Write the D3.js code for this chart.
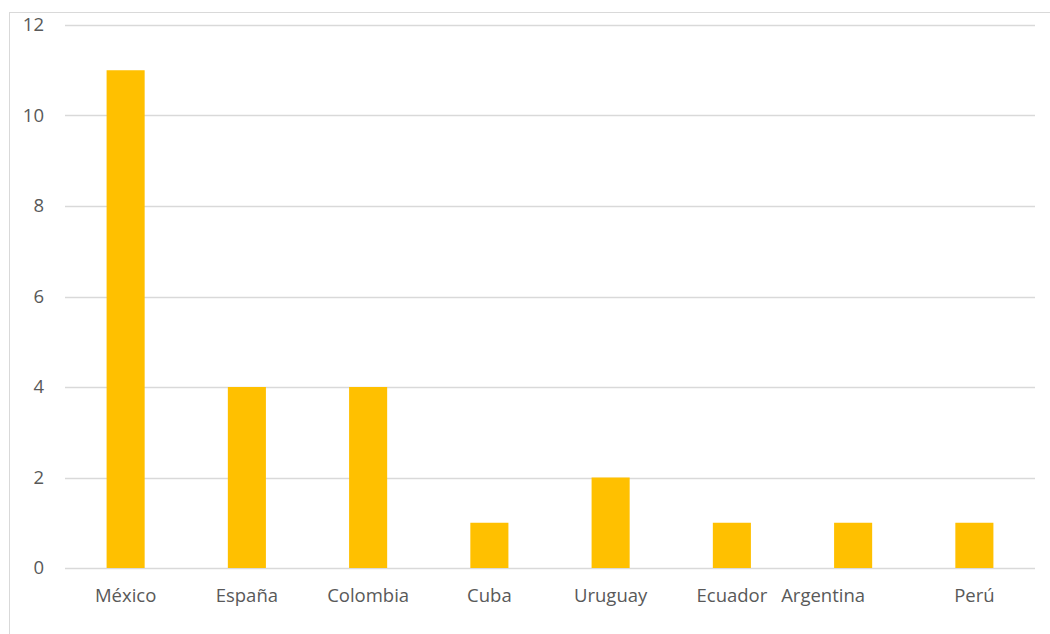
<!DOCTYPE html>
<html>
<head>
<meta charset="utf-8">
<script src="https://cdn.jsdelivr.net/npm/d3@7"></script>
<style>
  body { margin: 0; background: #fff; }
  text { font-family: "Open Sans", "Liberation Sans", sans-serif; fill: #595959; }
</style>
</head>
<body>
<div id="chart"></div>
<script>
const countries = ["México", "España", "Colombia", "Cuba", "Uruguay", "Ecuador", "Argentina", "Perú"];
const counts = [11, 4, 4, 1, 2, 1, 1, 1];
const yTicks = [0, 2, 4, 6, 8, 10, 12];

const W = 1050, H = 634;
const margin = {top: 25, right: 15, bottom: 66, left: 65};
const width = W - margin.left - margin.right,
      height = H - margin.top - margin.bottom;

const svg = d3.select("#chart").append("svg")
    .attr("width", W)
    .attr("height", H);

// chart frame
svg.append("rect")
    .attr("x", 9.5).attr("y", 12.5)
    .attr("width", W + 10).attr("height", H + 10)
    .attr("fill", "none")
    .attr("stroke", "#d9d9d9");

const g = svg.append("g")
    .attr("transform", `translate(${margin.left},${margin.top})`);

const x = d3.scaleBand()
    .domain(countries)
    .range([0, width])
    .paddingInner(0.686)
    .paddingOuter(0.343);

const y = d3.scaleLinear()
    .domain([0, 12])
    .range([height, 0]);

// gridlines
g.selectAll("line.grid")
    .data(yTicks)
    .enter()
    .append("line")
    .attr("class", "grid")
    .attr("x1", 0).attr("x2", width)
    .attr("y1", d => Math.round(y(d)) + 0.5)
    .attr("y2", d => Math.round(y(d)) + 0.5)
    .attr("stroke", "#d9d9d9")
    .attr("stroke-width", 1.5);

// y labels
g.selectAll("text.ytick")
    .data(yTicks)
    .enter()
    .append("text")
    .attr("class", "ytick")
    .attr("x", -21)
    .attr("y", d => y(d))
    .attr("dy", "0.35em")
    .attr("text-anchor", "end")
    .attr("font-size", 18.5)
    .text(d => d);

// bars
g.selectAll("rect.bar")
    .data(countries)
    .enter()
    .append("rect")
    .attr("class", "bar")
    .attr("x", d => x(d))
    .attr("y", (d, i) => y(counts[i]))
    .attr("width", x.bandwidth())
    .attr("height", (d, i) => y(0) - y(counts[i]))
    .attr("fill", "#ffc000");

// x labels (Argentina's label sits a bit left in the original)
g.selectAll("text.xtick")
    .data(countries)
    .enter()
    .append("text")
    .attr("class", "xtick")
    .attr("x", d => x(d) + x.bandwidth() / 2)
    .attr("dx", d => d === "Argentina" ? -30 : 0)
    .attr("y", height + 34)
    .attr("text-anchor", "middle")
    .attr("font-size", 18.5)
    .text(d => d);
</script>
</body>
</html>
